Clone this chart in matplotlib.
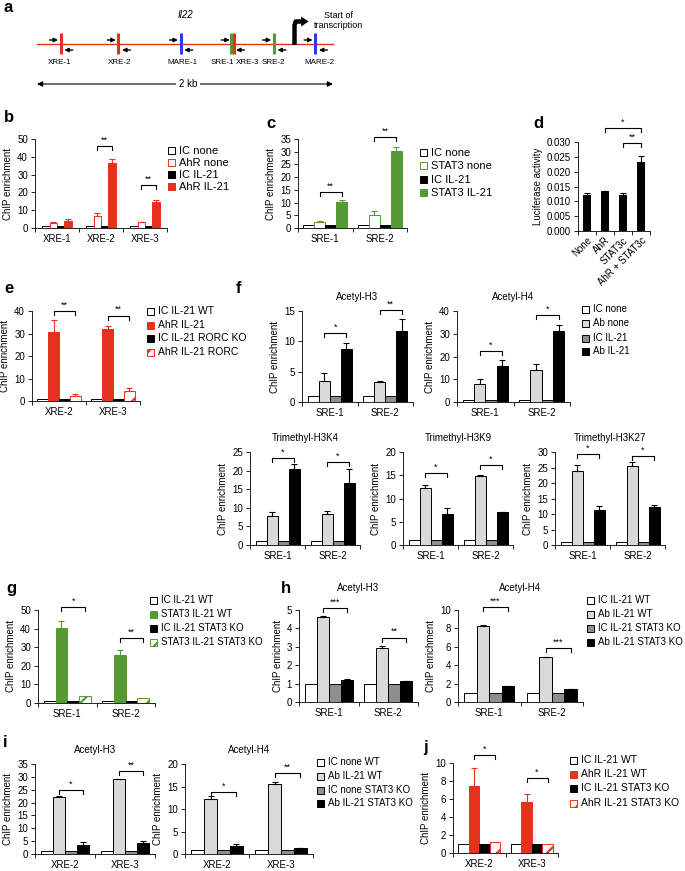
import numpy as np
import matplotlib
matplotlib.use('Agg')
import matplotlib.pyplot as plt
from matplotlib.patches import Rectangle, Polygon

plt.rcParams['font.family'] = ['Liberation Sans', 'DejaVu Sans']
plt.rcParams['hatch.linewidth'] = 1.6
plt.rcParams['axes.linewidth'] = 0.6

RED = '#e5321d'
GREEN = '#559b31'
BLUE = '#2b3be6'
LGRAY = '#d9d9d9'
MGRAY = '#8e8e8e'

# ---------------- data ----------------
# a: Il22 locus, positions in kb
a_sites = ['XRE-1', 'XRE-2', 'MARE-1', 'SRE-1', 'XRE-3', 'SRE-2', 'MARE-2']
a_kind = ['XRE', 'XRE', 'MARE', 'SRE', 'XRE', 'SRE', 'MARE']
a_pos = [0.16, 0.55, 0.97, 1.31, 1.33, 1.60, 1.88]
a_label_pos = [0.155, 0.56, 0.98, 1.25, 1.425, 1.60, 1.91]
a_primers = [0.16, 0.55, 0.97, 1.32, 1.60, 1.88]
a_tss = 1.74

# b
b_cats = ['XRE-1', 'XRE-2', 'XRE-3']
b_ic_none = [1, 1, 1]
b_ahr_none = [3.0, 7.0, 3.2]
b_ahr_none_err = [0.3, 1.5, 0.3]
b_ic_il21 = [1, 1, 1]
b_ahr_il21 = [4.2, 36.5, 14.5]
b_ahr_il21_err = [1.0, 2.3, 1.5]
b_sig = ['', '**', '**']
b_sig_y = [0, 46, 24]

# c
c_cats = ['SRE-1', 'SRE-2']
c_ic_none = [1, 1]
c_stat3_none = [2.3, 5.0]
c_stat3_none_err = [0.6, 1.5]
c_ic_il21 = [1, 1]
c_stat3_il21 = [10.3, 30.3]
c_stat3_il21_err = [0.7, 1.5]
c_sig = ['**', '**']
c_sig_y = [14.3, 35.9]

# d
d_cats = ['None', 'AhR', 'STAT3c', 'AhR + STAT3c']
d_luc = [0.0122, 0.0135, 0.0122, 0.0232]
d_luc_err = [0.0005, 0.0, 0.0006, 0.0021]

# e
e_cats = ['XRE-2', 'XRE-3']
e_ic_wt = [1, 1]
e_ahr_il21 = [30.5, 32.0]
e_ahr_il21_err = [5.5, 1.5]
e_ic_rorc = [1, 1]
e_ahr_rorc = [2.3, 4.5]
e_ahr_rorc_err = [1.0, 1.2]
e_sig = ['**', '**']
e_sig_y = [40, 38]

# f (histone marks)
f_cats = ['SRE-1', 'SRE-2']
f_h3_ab_none = [3.5, 3.35]
f_h3_ab_none_err = [1.2, 0.1]
f_h3_ab_il21 = [8.8, 11.7]
f_h3_ab_il21_err = [1.0, 1.9]
f_h3_sig = ['*', '**']
f_h3_sig_y = [11.4, 15.2]

f_h4_ab_none = [8.0, 14.0]
f_h4_ab_none_err = [2.0, 2.5]
f_h4_ab_il21 = [16.0, 31.0]
f_h4_ab_il21_err = [2.5, 3.0]
f_h4_sig = ['*', '*']
f_h4_sig_y = [22.4, 38.2]

f_k4_ab_none = [7.8, 8.2]
f_k4_ab_none_err = [1.2, 1.0]
f_k4_ab_il21 = [20.5, 16.7]
f_k4_ab_il21_err = [1.3, 3.7]
f_k4_sig = ['*', '*']
f_k4_sig_y = [23.4, 22.3]

f_k9_ab_none = [12.3, 14.8]
f_k9_ab_none_err = [0.7, 0.3]
f_k9_ab_il21 = [6.6, 7.0]
f_k9_ab_il21_err = [1.4, 0.15]
f_k9_sig = ['*', '*']
f_k9_sig_y = [15.5, 17.2]

f_k27_ab_none = [24.0, 25.5]
f_k27_ab_none_err = [1.8, 1.2]
f_k27_ab_il21 = [11.2, 12.2]
f_k27_ab_il21_err = [1.5, 0.8]
f_k27_sig = ['*', '*']
f_k27_sig_y = [29.4, 28.8]

f_ic = [1, 1]

# g
g_cats = ['SRE-1', 'SRE-2']
g_ic_wt = [1, 1]
g_stat3_wt = [40.5, 26.0]
g_stat3_wt_err = [3.5, 2.5]
g_ic_ko = [1, 1]
g_stat3_ko = [3.8, 2.8]
g_sig = ['*', '**']
g_sig_y = [51.5, 35]

# h
h_cats = ['SRE-1', 'SRE-2']
h_ic_wt = [1, 1]
h_h3_ab_wt = [4.6, 2.95]
h_h3_ab_wt_err = [0.05, 0.08]
h_h3_ic_ko = [1, 1]
h_h3_ab_ko = [1.2, 1.12]
h_h3_ab_ko_err = [0.03, 0.02]
h_h3_sig = ['***', '**']
h_h3_sig_y = [5.1, 3.5]

h_h4_ab_wt = [8.3, 4.85]
h_h4_ab_wt_err = [0.1, 0.05]
h_h4_ic_ko = [1, 1]
h_h4_ab_ko = [1.7, 1.4]
h_h4_ab_ko_err = [0.05, 0.03]
h_h4_sig = ['***', '***']
h_h4_sig_y = [10.3, 5.9]

# i
i_cats = ['XRE-2', 'XRE-3']
i_ic_wt = [1, 1]
i_h3_ab_wt = [22.0, 29.0]
i_h3_ab_wt_err = [0.5, 0.3]
i_h3_ic_ko = [1, 1]
i_h3_ab_ko = [3.5, 4.2]
i_h3_ab_ko_err = [1.0, 1.0]
i_h3_sig = ['*', '**']
i_h3_sig_y = [24.9, 32.3]

i_h4_ab_wt = [12.3, 15.6]
i_h4_ab_wt_err = [0.7, 0.5]
i_h4_ic_ko = [1, 1]
i_h4_ab_ko = [1.8, 1.3]
i_h4_ab_ko_err = [0.4, 0.1]
i_h4_sig = ['*', '**']
i_h4_sig_y = [13.8, 18.0]

# j
j_cats = ['XRE-2', 'XRE-3']
j_ic_wt = [1, 1]
j_ahr_wt = [7.4, 5.7]
j_ahr_wt_err = [2.0, 0.9]
j_ic_ko = [1, 1]
j_ahr_ko = [1.2, 1.0]
j_sig = ['*', '*']
j_sig_y = [10.9, 8.3]

# ---------------- styles ----------------
S_WHITE = dict(fc='white', ec='black', hatch=None)
S_BLACK = dict(fc='black', ec='black', hatch=None)
S_RED_OPEN = dict(fc='white', ec=RED, hatch=None)
S_RED = dict(fc=RED, ec=RED, hatch=None)
S_RED_HATCH = dict(fc='white', ec=RED, hatch='//')
S_GREEN_OPEN = dict(fc='white', ec=GREEN, hatch=None)
S_GREEN = dict(fc=GREEN, ec=GREEN, hatch=None)
S_GREEN_HATCH = dict(fc='white', ec=GREEN, hatch='//')
S_LGRAY = dict(fc=LGRAY, ec='black', hatch=None)
S_MGRAY = dict(fc=MGRAY, ec='black', hatch=None)

W, H = 685, 871
fig = plt.figure(figsize=(W / 100, H / 100), dpi=100)

# overlay in pixel coordinates for legends and panel letters (on top of everything)
ov = fig.add_axes([0, 0, 1, 1])
ov.set_xlim(0, W)
ov.set_ylim(H, 0)
ov.axis('off')
ov.set_zorder(10)


def add_ax(x0, yt, x1, yb):
    ax = fig.add_axes([x0 / W, 1 - yb / H, (x1 - x0) / W, (yb - yt) / H])
    ax.patch.set_visible(False)
    return ax


def bar_panel(box, cats, series, ymax, ystep, width=0.2, ylabel='ChIP enrichment',
              title=None, title_pad=8, sig=None, sig_y=None, span=(1, 3)):
    ax = add_ax(*box)
    n = len(cats)
    x = np.arange(n)
    ns = len(series)
    offs = [(k - (ns - 1) / 2) * width for k in range(ns)]
    for k, (vals, errs, st) in enumerate(series):
        ax.bar(x + offs[k], vals, width, color=st['fc'], edgecolor=st['ec'],
               hatch=st['hatch'], linewidth=0.7, zorder=2)
        if errs is not None:
            ax.errorbar(x + offs[k], vals, yerr=[np.zeros(n), errs], fmt='none',
                        ecolor=st['ec'], elinewidth=0.8, capsize=2.2, capthick=0.8, zorder=3)
    ax.set_xlim(-0.5, n - 0.5)
    ax.set_ylim(0, ymax)
    ax.set_yticks(np.arange(0, ymax + ystep / 2, ystep))
    ax.set_xticks(x)
    ax.set_xticklabels(cats)
    ax.set_xticks(np.arange(-0.5, n), minor=True)
    ax.tick_params(axis='x', which='major', length=0, pad=4, labelsize=7)
    ax.tick_params(axis='x', which='minor', length=3, width=0.6, direction='out')
    ax.tick_params(axis='y', length=3, width=0.6, labelsize=7, pad=2)
    for s in ('top', 'right'):
        ax.spines[s].set_visible(False)
    ax.set_ylabel(ylabel, fontsize=7, labelpad=3)
    if title:
        ax.set_title(title, fontsize=7, pad=title_pad)
    if sig is not None:
        for g, (txt, yy) in enumerate(zip(sig, sig_y)):
            if not txt:
                continue
            x1 = g + offs[span[0]]
            x2 = g + offs[span[1]]
            drop = ymax * 0.045
            ax.plot([x1, x1, x2, x2], [yy - drop, yy, yy, yy - drop], color='black',
                    lw=0.8, clip_on=False, zorder=4)
            ax.text((x1 + x2) / 2, yy + ymax * 0.015, txt, ha='center', va='bottom',
                    fontsize=6.5, clip_on=False)
    return ax


def legend(x, ys, labels, styles, size):
    for yy, lab, st in zip(ys, labels, styles):
        ov.add_patch(Rectangle((x, yy - 3.5), 7, 7, facecolor=st['fc'], edgecolor=st['ec'],
                               hatch=st['hatch'], linewidth=0.7))
        ov.text(x + 11, yy, lab, va='center', ha='left', fontsize=size)


def letter(x, y, s):
    ov.text(x, y, s, fontsize=12, fontweight='bold', va='center', ha='left')


# ---------------- panel a ----------------
ax_a = fig.add_axes([0, 1 - 100 / H, 1, 100 / H])
ax_a.set_xlim(-37 / 148, (W - 37) / 148)
ax_a.set_ylim(100, 0)
ax_a.axis('off')
ax_a.plot([0, 2], [44, 44], color=RED, lw=1.0, zorder=1)
kind_col = {'XRE': RED, 'SRE': GREEN, 'MARE': BLUE}
for p, kd in zip(a_pos, a_kind):
    ax_a.plot([p, p], [33, 54], color=kind_col[kd], lw=2.2, solid_capstyle='butt', zorder=2)
for lab, p in zip(a_sites, a_label_pos):
    ax_a.text(p, 63, lab, ha='center', va='center', fontsize=5.8)
for p in a_primers:
    ax_a.annotate('', xy=(p - 0.018, 40), xytext=(p - 0.075, 40),
                  arrowprops=dict(arrowstyle='-|>', color='black', lw=1.0, mutation_scale=6,
                                  shrinkA=0, shrinkB=0))
    ax_a.annotate('', xy=(p + 0.025, 50), xytext=(p + 0.082, 50),
                  arrowprops=dict(arrowstyle='-|>', color='black', lw=1.0, mutation_scale=6,
                                  shrinkA=0, shrinkB=0))
# start of transcription: bent arrow
ax_a.plot([a_tss, a_tss, a_tss + 0.008, a_tss + 0.05], [45, 25, 21.5, 21.5], color='black',
          lw=3.2, solid_joinstyle='round', solid_capstyle='butt', zorder=3)
ax_a.add_patch(Polygon([(a_tss + 0.045, 16.5), (a_tss + 0.045, 26.5), (a_tss + 0.095, 21.5)],
                       closed=True, facecolor='black', edgecolor='none', zorder=3))
ax_a.text(2.04, 16, 'Start of', ha='center', va='center', fontsize=6.5)
ax_a.text(2.04, 25, 'transcription', ha='center', va='center', fontsize=6.5)
ax_a.text(1.0, 15, 'Il22', ha='center', va='center', fontsize=7, style='italic')
ax_a.annotate('', xy=(2.0, 84), xytext=(0.0, 84),
              arrowprops=dict(arrowstyle='<|-|>', color='black', lw=0.8, mutation_scale=8,
                              shrinkA=0, shrinkB=0))
ax_a.text(1.02, 84, '2 kb', ha='center', va='center', fontsize=7,
          bbox=dict(fc='white', ec='none', pad=2))

# ---------------- panel b ----------------
bar_panel((35, 139, 167, 228), b_cats,
          [(b_ic_none, None, S_WHITE), (b_ahr_none, b_ahr_none_err, S_RED_OPEN),
           (b_ic_il21, None, S_BLACK), (b_ahr_il21, b_ahr_il21_err, S_RED)],
          50, 10, width=0.17, sig=b_sig, sig_y=b_sig_y)
legend(168, [151, 163, 175, 187], ['IC none', 'AhR none', 'IC IL-21', 'AhR IL-21'],
       [S_WHITE, S_RED_OPEN, S_BLACK, S_RED], 8)

# ---------------- panel c ----------------
bar_panel((298, 139, 407, 228), c_cats,
          [(c_ic_none, None, S_WHITE), (c_stat3_none, c_stat3_none_err, S_GREEN_OPEN),
           (c_ic_il21, None, S_BLACK), (c_stat3_il21, c_stat3_il21_err, S_GREEN)],
          35, 5, sig=c_sig, sig_y=c_sig_y)
legend(420, [153, 166, 180, 193], ['IC none', 'STAT3 none', 'IC IL-21', 'STAT3 IL-21'],
       [S_WHITE, S_GREEN_OPEN, S_BLACK, S_GREEN], 8)

# ---------------- panel d ----------------
ax_d = add_ax(578, 142, 650, 231)
xd = np.arange(len(d_cats))
ax_d.bar(xd, d_luc, 0.42, color='black', zorder=2)
ax_d.errorbar(xd, d_luc, yerr=[np.zeros(len(d_cats)), d_luc_err], fmt='none', ecolor='black',
              elinewidth=0.8, capsize=2.2, capthick=0.8)
ax_d.set_xlim(-0.5, len(d_cats) - 0.5)
ax_d.set_ylim(0, 0.030)
ax_d.set_yticks(np.arange(0, 0.0301, 0.005))
ax_d.yaxis.set_major_formatter(matplotlib.ticker.FormatStrFormatter('%.3f'))
ax_d.set_xticks(xd)
ax_d.set_xticklabels(d_cats, rotation=45, ha='right', rotation_mode='anchor')
ax_d.set_xticks(np.arange(-0.5, len(d_cats)), minor=True)
ax_d.tick_params(axis='x', which='major', length=0, pad=3, labelsize=7)
ax_d.tick_params(axis='x', which='minor', length=3, width=0.6)
ax_d.tick_params(axis='y', length=3, width=0.6, labelsize=7, pad=2)
for s in ('top', 'right'):
    ax_d.spines[s].set_visible(False)
ax_d.set_ylabel('Luciferase activity', fontsize=7, labelpad=3)
for x1, x2, yy, txt in [(1, 3, 0.0347, '*'), (2, 3, 0.0297, '**')]:
    ax_d.plot([x1, x1, x2, x2], [yy - 0.0013, yy, yy, yy - 0.0013], color='black', lw=0.8,
              clip_on=False)
    ax_d.text((x1 + x2) / 2, yy + 0.0004, txt, ha='center', va='bottom', fontsize=6.5)

# ---------------- panel e ----------------
bar_panel((32, 311, 140, 401), e_cats,
          [(e_ic_wt, None, S_WHITE), (e_ahr_il21, e_ahr_il21_err, S_RED),
           (e_ic_rorc, None, S_BLACK), (e_ahr_rorc, e_ahr_rorc_err, S_RED_HATCH)],
          40, 10, sig=e_sig, sig_y=e_sig_y)
legend(147, [311, 325, 338, 352], ['IC IL-21 WT', 'AhR IL-21', 'IC IL-21 RORC KO', 'AhR IL-21 RORC'],
       [S_WHITE, S_RED, S_BLACK, S_RED_HATCH], 7.5)

# ---------------- panel f ----------------
f_styles = [S_WHITE, S_LGRAY, S_MGRAY, S_BLACK]


def f_series(ab_none, ab_none_err, ab_il21, ab_il21_err):
    return [(f_ic, None, S_WHITE), (ab_none, ab_none_err, S_LGRAY),
            (f_ic, None, S_MGRAY), (ab_il21, ab_il21_err, S_BLACK)]


bar_panel((302, 311, 413, 402), f_cats, f_series(f_h3_ab_none, f_h3_ab_none_err, f_h3_ab_il21, f_h3_ab_il21_err),
          15, 5, title='Acetyl-H3', sig=f_h3_sig, sig_y=f_h3_sig_y)
bar_panel((457, 311, 570, 402), f_cats, f_series(f_h4_ab_none, f_h4_ab_none_err, f_h4_ab_il21, f_h4_ab_il21_err),
          40, 10, title='Acetyl-H4', sig=f_h4_sig, sig_y=f_h4_sig_y)
legend(582, [309, 323, 338, 351], ['IC none', 'Ab none', 'IC IL-21', 'Ab IL-21'], f_styles, 7)
bar_panel((250, 452, 360, 545), f_cats, f_series(f_k4_ab_none, f_k4_ab_none_err, f_k4_ab_il21, f_k4_ab_il21_err),
          25, 5, title='Trimethyl-H3K4', sig=f_k4_sig, sig_y=f_k4_sig_y)
bar_panel((403, 452, 513, 545), f_cats, f_series(f_k9_ab_none, f_k9_ab_none_err, f_k9_ab_il21, f_k9_ab_il21_err),
          20, 5, title='Trimethyl-H3K9', sig=f_k9_sig, sig_y=f_k9_sig_y)
bar_panel((555, 452, 665, 545), f_cats, f_series(f_k27_ab_none, f_k27_ab_none_err, f_k27_ab_il21, f_k27_ab_il21_err),
          30, 5, title='Trimethyl-H3K27', sig=f_k27_sig, sig_y=f_k27_sig_y)

# ---------------- panel g ----------------
bar_panel((38, 610, 155, 703), g_cats,
          [(g_ic_wt, None, S_WHITE), (g_stat3_wt, g_stat3_wt_err, S_GREEN),
           (g_ic_ko, None, S_BLACK), (g_stat3_ko, None, S_GREEN_HATCH)],
          50, 10, sig=g_sig, sig_y=g_sig_y)
legend(150, [600, 614, 628, 642], ['IC IL-21 WT', 'STAT3 IL-21 WT', 'IC IL-21 STAT3 KO', 'STAT3 IL-21 STAT3 KO'],
       [S_WHITE, S_GREEN, S_BLACK, S_GREEN_HATCH], 7)

# ---------------- panel h ----------------
bar_panel((299, 610, 418, 702), h_cats,
          [(h_ic_wt, None, S_WHITE), (h_h3_ab_wt, h_h3_ab_wt_err, S_LGRAY),
           (h_h3_ic_ko, None, S_MGRAY), (h_h3_ab_ko, h_h3_ab_ko_err, S_BLACK)],
          5, 1, title='Acetyl-H3', title_pad=14, sig=h_h3_sig, sig_y=h_h3_sig_y)
bar_panel((458, 610, 583, 702), h_cats,
          [(h_ic_wt, None, S_WHITE), (h_h4_ab_wt, h_h4_ab_wt_err, S_LGRAY),
           (h_h4_ic_ko, None, S_MGRAY), (h_h4_ab_ko, h_h4_ab_ko_err, S_BLACK)],
          10, 2, title='Acetyl-H4', title_pad=14, sig=h_h4_sig, sig_y=h_h4_sig_y)
legend(587, [600, 614, 628, 642], ['IC IL-21 WT', 'Ab IL-21 WT', 'IC IL-21 STAT3 KO', 'Ab IL-21 STAT3 KO'],
       f_styles, 7)

# ---------------- panel i ----------------
bar_panel((35, 764, 155, 854), i_cats,
          [(i_ic_wt, None, S_WHITE), (i_h3_ab_wt, i_h3_ab_wt_err, S_LGRAY),
           (i_h3_ic_ko, None, S_MGRAY), (i_h3_ab_ko, i_h3_ab_ko_err, S_BLACK)],
          35, 5, title='Acetyl-H3', sig=i_h3_sig, sig_y=i_h3_sig_y)
bar_panel((185, 764, 313, 854), i_cats,
          [(i_ic_wt, None, S_WHITE), (i_h4_ab_wt, i_h4_ab_wt_err, S_LGRAY),
           (i_h4_ic_ko, None, S_MGRAY), (i_h4_ab_ko, i_h4_ab_ko_err, S_BLACK)],
          20, 5, title='Acetyl-H4', sig=i_h4_sig, sig_y=i_h4_sig_y)
legend(317, [762, 776, 790, 803], ['IC none WT', 'Ab IL-21 WT', 'IC none STAT3 KO', 'Ab IL-21 STAT3 KO'],
       f_styles, 7)

# ---------------- panel j ----------------
bar_panel((453, 763, 558, 853), j_cats,
          [(j_ic_wt, None, S_WHITE), (j_ahr_wt, j_ahr_wt_err, S_RED),
           (j_ic_ko, None, S_BLACK), (j_ahr_ko, None, S_RED_HATCH)],
          10, 2, sig=j_sig, sig_y=j_sig_y)
legend(570, [760, 774, 788, 803], ['IC IL-21 WT', 'AhR IL-21 WT', 'IC IL-21 STAT3 KO', 'AhR IL-21 STAT3 KO'],
       [S_WHITE, S_RED, S_BLACK, S_RED_HATCH], 7.5)

# ---------------- panel letters ----------------
for lx, ly, s in [(4, 8, 'a'), (4, 118, 'b'), (266, 124, 'c'), (533, 124, 'd'), (4, 288, 'e'),
                  (236, 288, 'f'), (6, 588, 'g'), (281, 588, 'h'), (3, 742, 'i'), (423, 747, 'j')]:
    letter(lx, ly, s)

fig.savefig('out.png', dpi=100)
